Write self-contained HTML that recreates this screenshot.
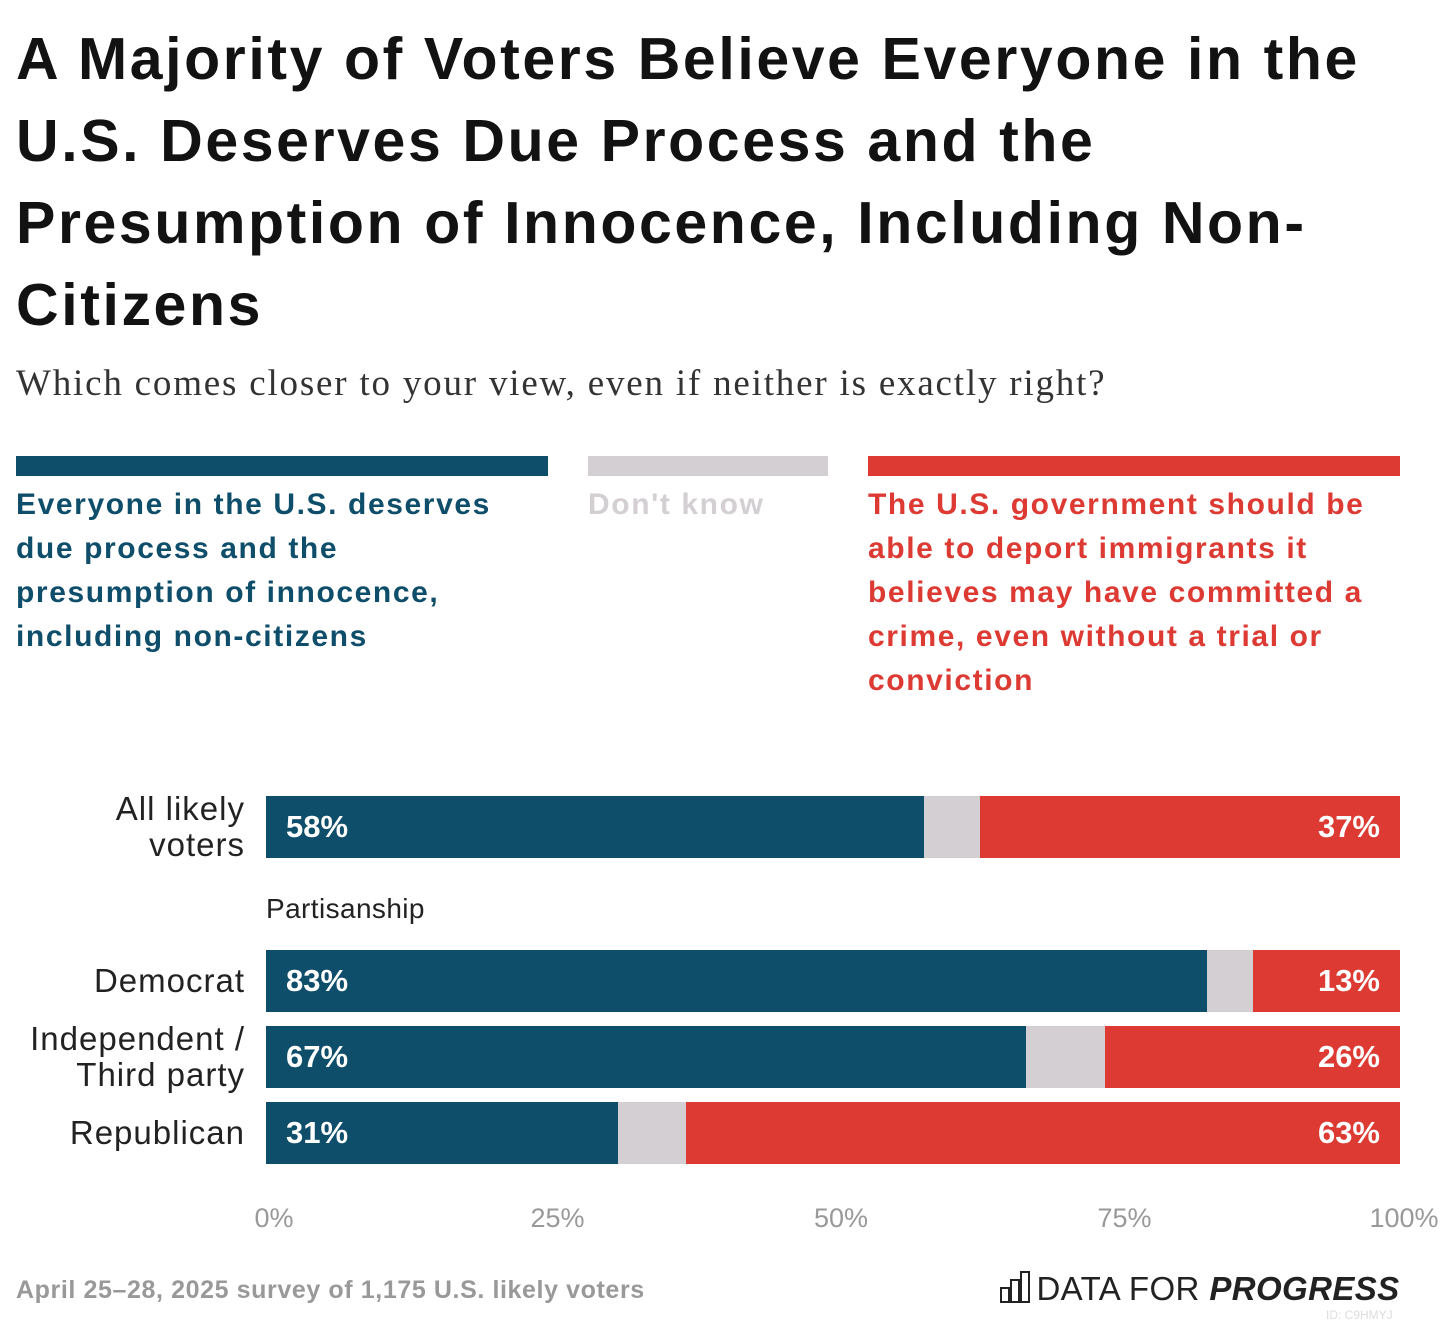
<!DOCTYPE html>
<html><head><meta charset="utf-8">
<style>
body{margin:0;width:1440px;height:1324px;background:#fff;position:relative;overflow:hidden;font-family:"Liberation Sans",sans-serif;}
.abs{position:absolute;}
#title{left:16px;top:18px;font-size:59px;font-weight:bold;line-height:82px;color:#121212;letter-spacing:2.6px;white-space:nowrap}
#sub{left:16px;top:362px;font-family:"Liberation Serif",serif;font-size:37px;letter-spacing:1.8px;color:#333;white-space:nowrap}
.lbar{height:20px;top:456px}
.ltxt{top:483px;font-size:30px;font-weight:bold;line-height:44px;letter-spacing:1.6px;white-space:nowrap}
.rowlab{font-size:33px;letter-spacing:1px;color:#222;text-align:right;right:1195px;line-height:36px;white-space:nowrap}
.tick{font-size:27px;color:#999;top:1203px;transform:translateX(-50%)}
</style></head><body>
<div id="title" class="abs">A Majority of Voters Believe Everyone in the<br>U.S. Deserves Due Process and the<br>Presumption of Innocence, Including Non-<br>Citizens</div>
<div id="sub" class="abs">Which comes closer to your view, even if neither is exactly right?</div>

<div class="abs lbar" style="left:16px;width:532px;background:#0f4e6a"></div>
<div class="abs lbar" style="left:588px;width:240px;background:#d3cfd3"></div>
<div class="abs lbar" style="left:868px;width:532px;background:#dc3a33"></div>
<div class="abs ltxt" style="left:16px;color:#0f4e6a">Everyone in the U.S. deserves<br>due process and the<br>presumption of innocence,<br>including non-citizens</div>
<div class="abs ltxt" style="left:588px;color:#d3cfd3">Don't know</div>
<div class="abs ltxt" style="left:868px;color:#dc3a33">The U.S. government should be<br>able to deport immigrants it<br>believes may have committed a<br>crime, even without a trial or<br>conviction</div>

<div id="chart"></div>
<div class="abs" style="left:266px;top:893px;font-size:28px;letter-spacing:0.4px;color:#222">Partisanship</div>

<div class="abs" style="left:16px;top:1276px;font-size:25px;letter-spacing:0.6px;font-weight:bold;color:#999">April 25–28, 2025 survey of 1,175 U.S. likely voters</div>
<div class="abs" style="left:1000px;top:1270px;white-space:nowrap">
<svg width="32" height="34" viewBox="0 0 32 34" style="vertical-align:-4px"><g fill="none" stroke="#222" stroke-width="2"><rect x="1" y="18" width="8" height="14"/><rect x="11" y="10" width="8" height="22"/><rect x="21" y="2" width="8" height="30"/></g></svg>
<span style="font-size:33px;color:#222;letter-spacing:0.4px"> DATA FOR <b><i>PROGRESS</i></b></span></div>
<div class="abs" style="left:1326px;top:1308px;font-size:12px;color:#ddd">ID: C9HMYJ</div>

<script>
const categories = ["All likely voters","Democrat","Independent / Third party","Republican"];
const catLabels = [["All likely","voters"],["Democrat"],["Independent /","Third party"],["Republican"]];
const dueProcess = [58,83,67,31];
const dontKnow = [5,4,7,6];
const deport = [37,13,26,63];
const ticks = [0,25,50,75,100];
const tickLabels = ["0%","25%","50%","75%","100%"];

const X0=266, W=1134;
const rowTops=[796,950,1026,1102], BH=62;
const x = v => X0 + v/100*W;
const chart=document.getElementById('chart');
function box(cls,style,name){const d=document.createElement('div');d.className='abs '+cls;Object.assign(d.style,style);


chart.appendChild(d);return d;}
categories.forEach((c,i)=>{
  const t=rowTops[i], slug=c.toLowerCase().replace(/[^a-z]+/g,'-');
  const a=dueProcess[i], b=dontKnow[i], r=deport[i];
  box('',{left:x(0)+'px',top:t+'px',width:(x(a)-x(0))+'px',height:BH+'px',background:'#0f4e6a'},'bar-due-process-'+slug);
  box('',{left:x(a)+'px',top:t+'px',width:(x(a+b)-x(a))+'px',height:BH+'px',background:'#d3cfd3'},'bar-dont-know-'+slug);
  box('',{left:x(100-r)+'px',top:t+'px',width:(x(100)-x(100-r))+'px',height:BH+'px',background:'#dc3a33'},'bar-deport-'+slug);
  const l1=box('',{left:(x(0)+20)+'px',top:(t+13)+'px',fontSize:'31px',fontWeight:'bold',color:'#fff'},'value-due-process-'+slug);l1.textContent=a+'%';
  const l2=box('',{right:(1440-x(100)+20)+'px',top:(t+13)+'px',fontSize:'31px',fontWeight:'bold',color:'#fff'},'value-deport-'+slug);l2.textContent=r+'%';
  const lines=catLabels[i];
  const lb=box('rowlab',{top:(t+BH/2-lines.length*18)+'px'},'row-label-'+slug);lb.innerHTML=lines.join('<br>');
});
ticks.forEach((v,i)=>{const d=box('tick',{left:(x(v)+(v===100?4:8))+'px'},'x-tick-'+v);d.textContent=tickLabels[i];});
</script>
</body></html>
